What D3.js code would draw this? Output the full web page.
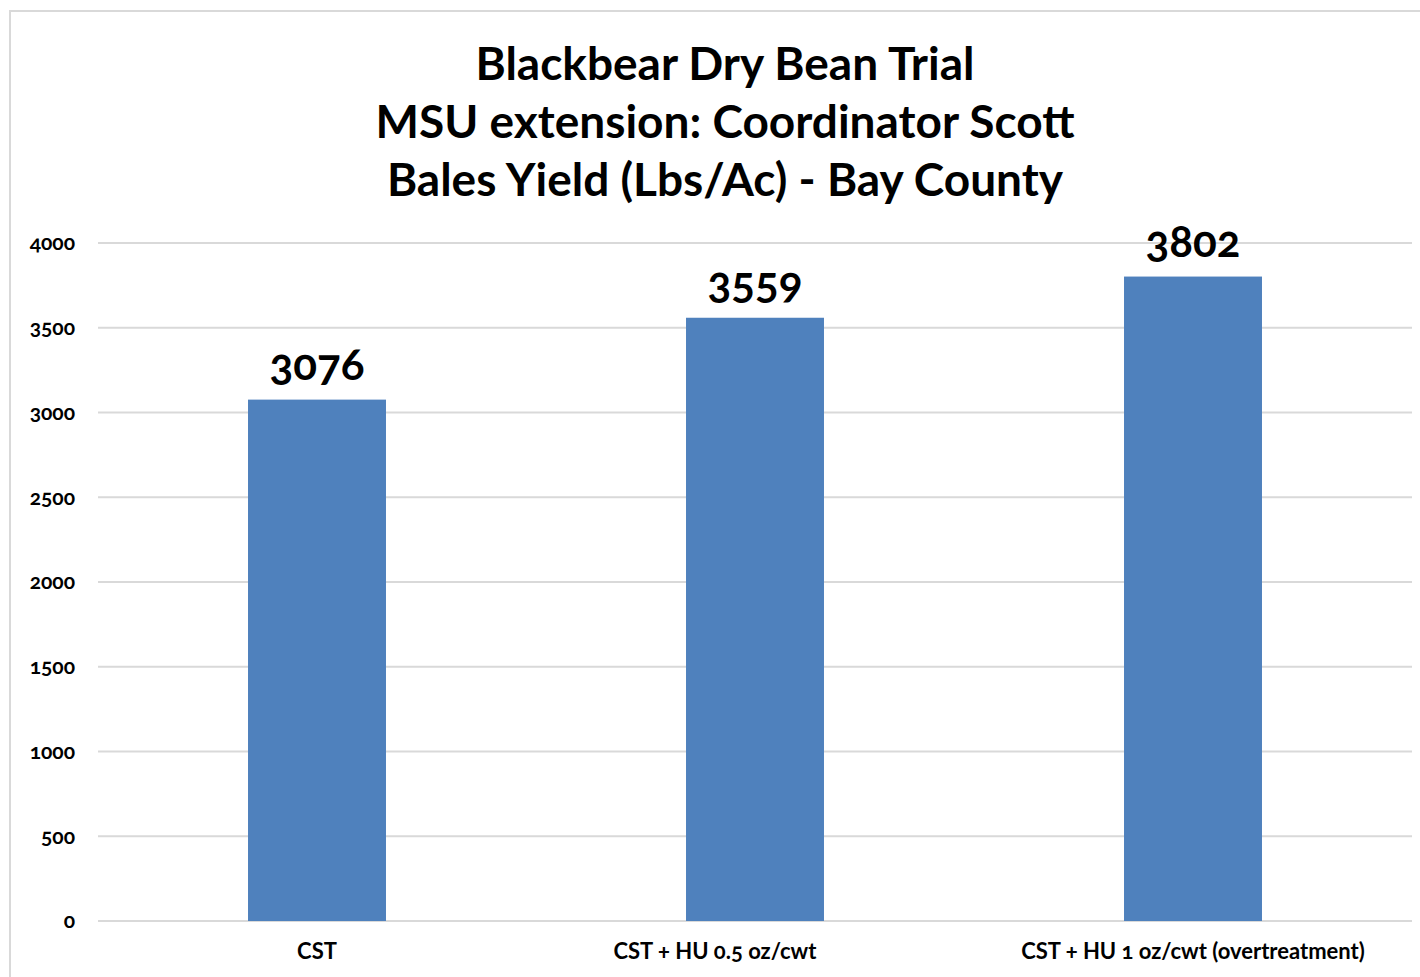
<!DOCTYPE html>
<meta charset="utf-8">
<style>
body { margin: 0; background: #fff; }
text { font-family: Lato, "Open Sans", sans-serif; font-weight: bold; fill: #000; }
.grid line { stroke: #d9d9d9; stroke-width: 2px; }
.bar { fill: #4f81bd; }
.num { font-variant-numeric: oldstyle-nums; font-feature-settings: "onum"; }
</style>
<svg width="1420" height="977"></svg>
<script src="https://d3js.org/d3.v7.min.js"></script>
<script>

// the middle label carries trailing spaces in the source sheet
var categories = ["CST", "CST + HU 0.5 oz/cwt\u00A0\u00A0\u00A0\u00A0\u00A0\u00A0\u00A0\u00A0\u00A0\u00A0\u00A0\u00A0\u00A0\u00A0\u00A0", "CST + HU 1 oz/cwt (overtreatment)"];
var yields = [3076, 3559, 3802];
var yTicks = [0, 500, 1000, 1500, 2000, 2500, 3000, 3500, 4000];
var titleLines = ["Blackbear Dry Bean Trial", "MSU extension: Coordinator Scott", "Bales Yield (Lbs/Ac) - Bay County"];

var svg = d3.select("svg");

// outer chart border
svg.append("rect")
    .attr("x", 10).attr("y", 11)
    .attr("width", 1430).attr("height", 1000)
    .attr("fill", "none")
    .attr("stroke", "#d9d9d9")
    .attr("stroke-width", 2);

var margin = {top: 243, left: 98},
    width = 1314,
    height = 678,
    g = svg.append("g").attr("transform", "translate(" + margin.left + "," + margin.top + ")");

var x = d3.scaleBand()
    .domain(categories)
    .range([0, width])
    .paddingInner(0.685)
    .paddingOuter(0.3425);

var y = d3.scaleLinear()
    .domain([0, 4000])
    .range([height, 0]);

// gridlines
g.append("g")
    .attr("class", "grid")
  .selectAll("line")
  .data(yTicks)
  .enter().append("line")
    .attr("x1", 0).attr("x2", width)
    .attr("y1", function(d) { return y(d); })
    .attr("y2", function(d) { return y(d); });

// y tick labels
g.append("g")
  .selectAll("text")
  .data(yTicks)
  .enter().append("text")
    .attr("class", "num")
    .attr("x", -23)
    .attr("y", function(d) { return y(d); })
    .attr("dy", "0.35em")
    .attr("text-anchor", "end")
    .style("font-size", "21px")
    .text(function(d) { return d; });

// bars
var data = categories.map(function(c, i) { return {cat: c, value: yields[i]}; });

g.selectAll(".bar")
  .data(data)
  .enter().append("rect")
    .attr("class", "bar")
    .attr("x", function(d) { return x(d.cat); })
    .attr("y", function(d) { return y(d.value); })
    .attr("width", x.bandwidth())
    .attr("height", function(d) { return height - y(d.value); });

// value labels
g.selectAll(".val")
  .data(data)
  .enter().append("text")
    .attr("class", "val num")
    .attr("x", function(d) { return x(d.cat) + x.bandwidth() / 2; })
    .attr("y", function(d) { return y(d.value) - 20; })
    .attr("text-anchor", "middle")
    .style("font-size", "44px")
    .text(function(d) { return d.value; });

// category labels
g.selectAll(".cat")
  .data(data)
  .enter().append("text")
    .attr("class", "cat num")
    .attr("x", function(d) { return x(d.cat) + x.bandwidth() / 2; })
    .attr("y", height + 38)
    .attr("text-anchor", "middle")
    .style("font-size", "22px")
    .text(function(d) { return d.cat; });

// title
svg.append("g")
  .selectAll("text")
  .data(titleLines)
  .enter().append("text")
    .attr("x", 725)
    .attr("y", function(d, i) { return 80 + i * 58; })
    .attr("text-anchor", "middle")
    .style("font-size", "46px")
    .text(function(d) { return d; });

</script>
